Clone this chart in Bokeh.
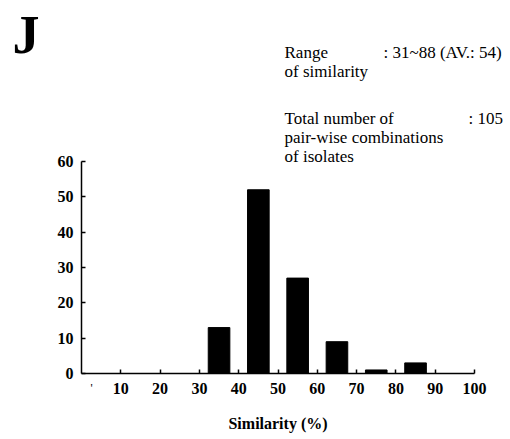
from bokeh.plotting import figure
from bokeh.models import Label, FixedTicker, Range1d
from bokeh.embed import file_html
from bokeh.resources import INLINE

# data
bin_centers = [35, 45, 55, 65, 75, 85]
counts = [13, 52, 27, 9, 1, 3]
x_ticks = [10, 20, 30, 40, 50, 60, 70, 80, 90, 100]
y_ticks = [0, 10, 20, 30, 40, 50, 60]

SERIF = "Liberation Serif"

W, H = 510, 439
FB = 373                 # canvas px of y=0
X0, X100 = 81.0, 474.0   # canvas px of x=0 and x=100
Y60 = 161.0              # canvas px of y=60
xs = (X100 - X0) / 100.0
ys = (FB - Y60) / 60.0

p = figure(width=W, height=H, output_backend="svg", toolbar_location=None,
           x_range=Range1d(-X0 / xs, (W - X0) / xs),
           y_range=Range1d(-(H - FB) / ys, FB / ys),
           min_border_left=0, min_border_right=0, min_border_top=0,
           min_border_bottom=0)
p.outline_line_color = None
p.xgrid.visible = False
p.ygrid.visible = False
p.background_fill_color = "white"
p.border_fill_color = "white"

p.vbar(x=bin_centers, top=counts, width=5.5, fill_color="black", line_color="black")

for ax in (p.xaxis[0], p.yaxis[0]):
    ax.axis_line_width = 1.5
    ax.axis_line_color = "black"
    ax.major_tick_line_width = 1.5
    ax.major_tick_line_color = "black"
    ax.major_tick_in = 4
    ax.major_tick_out = 0
    ax.minor_tick_line_color = None
    ax.major_label_text_font = SERIF
    ax.major_label_text_font_style = "bold"
    ax.major_label_text_font_size = "16px"
    ax.major_label_text_color = "black"
    ax.fixed_location = 0

p.xaxis[0].ticker = FixedTicker(ticks=x_ticks)
p.xaxis[0].bounds = (0, 100)
p.yaxis[0].ticker = FixedTicker(ticks=y_ticks)
p.yaxis[0].bounds = (0, 60)
p.xaxis[0].major_label_standoff = 9
p.yaxis[0].major_label_standoff = 8
p.xaxis[0].axis_label = "Similarity (%)"
p.xaxis[0].axis_label_text_font = SERIF
p.xaxis[0].axis_label_text_font_style = "bold"
p.xaxis[0].axis_label_text_font_size = "16px"
p.xaxis[0].axis_label_text_color = "black"
p.xaxis[0].axis_label_standoff = 18


def add_text(txt, cx, cy, size="17px", style="normal"):
    p.add_layout(Label(x=cx, y=H - cy, x_units="screen", y_units="screen",
                       text=txt, text_font=SERIF, text_font_size=size,
                       text_font_style=style, text_baseline="alphabetic",
                       text_align="left", text_color="black"))


add_text("J", 12, 34, size="54px", style="bold")
add_text("Range", 284, 52)
add_text(": 31~88 (AV.: 54)", 383, 52)
add_text("of similarity", 284, 71)
add_text("Total number of", 284, 118)
add_text(": 105", 468, 118)
add_text("pair-wise combinations", 284, 137)
add_text("of isolates", 284, 156)
add_text("'", 90, 387, size="12px")

open("out.html", "w").write(file_html(p, INLINE))
